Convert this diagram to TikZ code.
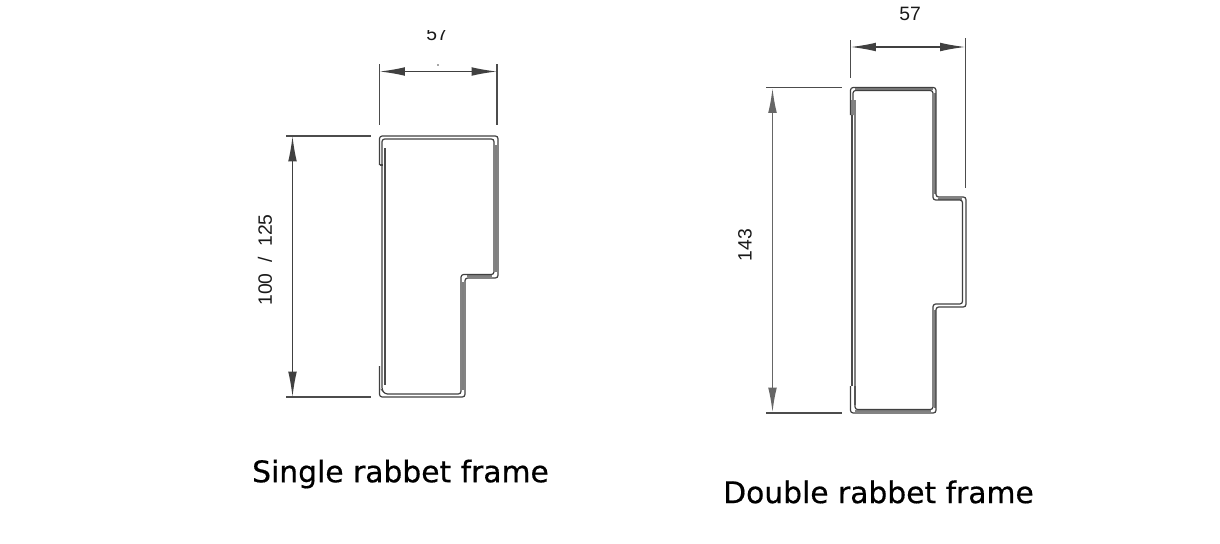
\documentclass[tikz,border=0pt]{standalone}
\usepackage{fontspec}
\setmainfont{Liberation Sans}
\newfontfamily\capfont[BoldFont={DejaVu Sans},BoldFeatures={FakeBold=0.5}]{DejaVu Sans}
\usetikzlibrary{arrows.meta}
\tikzset{
  dimline/.style={draw=black!75, line width=1pt, {Latex[length=19pt,width=6.5pt]}-{Latex[length=19pt,width=6.5pt]}},
  extline/.style={draw=black!70, line width=.9pt},
  heavyline/.style={draw=black!50, line width=1.5pt},
  profile/.style={draw=black!75, line width=.9pt, rounded corners=2pt},
  dimtext/.style={font=\fontsize{14.5}{15}\selectfont, text=black!90, inner sep=0pt},
  captiontext/.style={font=\capfont\bfseries\fontsize{22.3}{24}\selectfont, text=black, inner sep=0pt}
}
\begin{document}
\begin{tikzpicture}[x=.75pt,y=-.75pt]
\useasboundingbox (0,0) rectangle (1220,543);

% single rabbet frame
\node[dimtext] (widthA) at (437,33.5) {57};
\fill[white] (420,20) rectangle (455,29.5);
\fill[black!70] (438,65) circle[radius=.8];
\draw[extline] (379.5,64) -- (379.5,125);
\draw[extline, line width=1.2pt] (497,64) -- (497,125);
\draw[dimline] (379.5,71.5) -- (497,71.5);
\draw[extline] (286,136) -- (371,136);
\draw[extline] (286,397) -- (371,397);
\draw[dimline] (292.5,136) -- (292.5,397);
\node[dimtext, rotate=90] (heightA) at (265,260) {100\hspace{8pt}/\hspace{8pt}125};

\draw[heavyline] (496,145) -- (496,272);
\draw[heavyline] (467,276) -- (492,276);
\draw[heavyline] (463,282) -- (463,390);
\draw[profile] (379.5,165) -- (379.5,136) -- (498,136) -- (498,278) -- (465,278)
  -- (465,397) -- (379.5,397) -- (379.5,366);
\draw[extline] (379.5,165) -- (383,165);
\draw[profile] (382,165) -- (382,139) -- (494,139) -- (494,274.5) -- (461,274.5)
  -- (461,394) -- (385,394) -- (382,390) -- (382,165);
\draw[extline] (385,148) -- (385,385);

% double rabbet frame
\node[dimtext] (widthB) at (910,13.5) {57};
\draw[extline] (850.5,40) -- (850.5,78);
\draw[extline] (965.5,38) -- (965.5,188);
\draw[dimline] (850.5,47) -- (965.5,47);
\draw[extline, line width=1.2pt] (766,87.5) -- (842,87.5);
\draw[extline, line width=1.5pt] (766,413) -- (842,413);
\draw[dimline, draw=black!60, line width=1.4pt] (772.5,87.5) -- (772.5,413);
\node[dimtext, rotate=90] (heightB) at (745,245) {143};

\draw[heavyline] (855,89) -- (933,89);
\draw[heavyline] (854.5,100) -- (854.5,405);
\draw[heavyline] (934.5,93) -- (934.5,194);
\draw[heavyline] (938,198.5) -- (962,198.5);
\draw[heavyline] (934.5,310) -- (934.5,408);
\draw[heavyline] (855,411) -- (931,411);
\draw[profile] (850.5,115) -- (850.5,87.5) -- (936,87.5) -- (936,197) -- (966,197) -- (966,307)
  -- (936,307) -- (936,413) -- (850.5,413) -- (850.5,386);
\draw[profile] (853,115) -- (853,90.5) -- (933,90.5) -- (933,200) -- (962.5,200) -- (962.5,304)
  -- (933,304) -- (933,409.5) -- (855,409.5) -- (855,386);
\draw[extline] (852,100) -- (852,386);
\draw[heavyline] (852,100) -- (852,115);

\node[captiontext] (captionA) at (400.5,474) {Single rabbet frame};
\node[captiontext] (captionB) at (878.5,492) {Double rabbet frame};
\end{tikzpicture}
\end{document}
